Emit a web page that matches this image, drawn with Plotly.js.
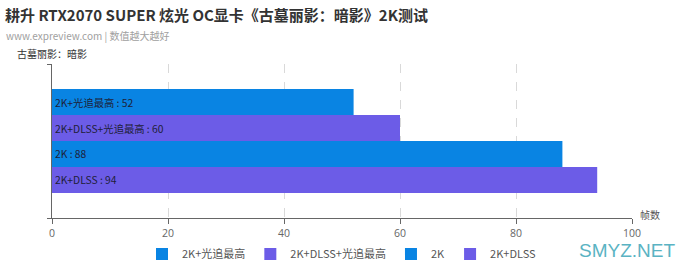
<!DOCTYPE html>
<html>
<head>
<meta charset="utf-8">
<script src="https://cdn.plot.ly/plotly-3.0.1.min.js"></script>
<style>html,body{margin:0;padding:0;background:#fff;}#chart{width:680px;height:264px;}</style>
</head>
<body>
<div id="chart"></div>
<script>
var seriesNames = ["2K+光追最高", "2K+DLSS+光追最高", "2K", "2K+DLSS"];
var seriesValues = [52, 60, 88, 94];
var seriesColors = ["#0984e3", "#6c5ce7", "#0984e3", "#6c5ce7"];
var category = [""];
var xTicks = [0, 20, 40, 60, 80, 100];

var FONT = '"Noto Sans CJK SC", "Noto Sans", sans-serif';

var traces = seriesNames.map(function (name, i) {
  return {
    type: "bar",
    orientation: "h",
    name: name,
    y: category,
    x: [seriesValues[i]],
    marker: { color: seriesColors[i], line: { width: 0 } },
    text: [name + " : " + seriesValues[i]],
    textposition: "inside",
    insidetextanchor: "start",
    textangle: 0,
    constraintext: "none",
    textfont: { family: FONT, size: 10.3, color: "#1e1e38" },
    hoverinfo: "none"
  };
});

var layout = {
  width: 680,
  height: 264,
  margin: { l: 52, r: 48, t: 64, b: 46, autoexpand: false },
  paper_bgcolor: "#ffffff",
  plot_bgcolor: "#ffffff",
  font: { family: FONT, size: 11, color: "#666" },
  barmode: "group",
  bargap: 0.325,
  bargroupgap: 0,
  showlegend: true,
  title: {
    text: "耕升 RTX2070 SUPER 炫光 OC显卡《古墓丽影：暗影》2K测试",
    font: { family: FONT, size: 15, color: "#333", weight: "bold" },
    xref: "container", yref: "container",
    x: 5 / 680, xanchor: "left",
    y: 1 - 16 / 264, yanchor: "middle"
  },
  xaxis: {
    range: [0, 100],
    tickvals: xTicks,
    ticktext: xTicks.map(String),
    showgrid: true,
    gridcolor: "#d9d9d9",
    griddash: "dash",
    gridwidth: 1,
    zeroline: false,
    showline: true,
    linecolor: "#666",
    linewidth: 1,
    ticks: "outside",
    ticklen: 5,
    tickcolor: "#666",
    ticklabelstandoff: 0,
    tickfont: { family: '"Open Sans", sans-serif', size: 10.5, color: "#666" },
    fixedrange: true
  },
  yaxis: {
    type: "category",
    autorange: "reversed",
    showgrid: false,
    zeroline: false,
    showline: true,
    linecolor: "#666",
    linewidth: 1,
    ticks: "outside",
    tickson: "boundaries",
    ticklen: 4,
    tickcolor: "#666",
    showticklabels: false,
    fixedrange: true
  },
  legend: {
    orientation: "h",
    x: 0.5, xanchor: "center",
    y: -(254 - 218) / 154, yanchor: "middle",
    font: { family: FONT, size: 11, color: "#555" },
    itemwidth: 30,
    traceorder: "normal"
  },
  annotations: [
    {
      text: "www.expreview.com | 数值越大越好",
      xref: "paper", yref: "paper",
      x: -48 / 580, xanchor: "left",
      y: 1 + (64 - 35) / 154, yanchor: "middle",
      showarrow: false,
      font: { family: FONT, size: 10, color: "#a0a0a0" }
    },
    {
      text: "古墓丽影：暗影",
      xref: "paper", yref: "paper",
      x: 0, xanchor: "center",
      y: 1 + (64 - 53) / 154, yanchor: "middle",
      showarrow: false,
      font: { family: FONT, size: 10, color: "#333" }
    },
    {
      text: "帧数",
      xref: "paper", yref: "paper",
      x: 1, xanchor: "left", xshift: 6,
      y: (218 - 214) / 154, yanchor: "middle",
      showarrow: false,
      font: { family: FONT, size: 10, color: "#555" }
    },
    {
      text: "SMYZ.NET",
      xref: "paper", yref: "paper",
      x: (627 - 52) / 580, xanchor: "center",
      y: -(251 - 218) / 154, yanchor: "middle",
      borderpad: 0,
      showarrow: false,
      font: { family: '"Liberation Sans", sans-serif', size: 19, color: "#5ab3c3" }
    }
  ]
};

Plotly.newPlot("chart", traces, layout, { displayModeBar: false, staticPlot: true });
</script>
</body>
</html>
